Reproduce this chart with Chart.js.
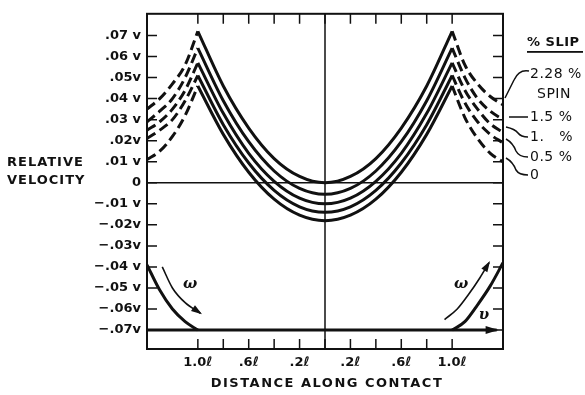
<!DOCTYPE html>
<html>
<head>
<meta charset="utf-8">
<script src="https://cdn.jsdelivr.net/npm/chart.js@4/dist/chart.umd.min.js"></script>
<style>
  html, body { margin: 0; padding: 0; background: #fff; }
  canvas { display: block; }
</style>
</head>
<body>
<canvas id="c" width="585" height="395"></canvas>
<script>
// Positions along the contact, in units of ℓ
const xContact   = [-1.0, -0.8, -0.6, -0.4, -0.2, 0, 0.2, 0.4, 0.6, 0.8, 1.0];
const xLeftTail  = [-1.4, -1.3, -1.2, -1.1, -1.0];
const xRightTail = [1.0, 1.1, 1.2, 1.3, 1.4];

const slipLabels = ['2.28 %', '1.5 %', '1.   %', '0.5 %', '0'];

// Relative velocity (fraction of v) inside the contact, one row per slip
const slip228 = [0.072, 0.046, 0.026, 0.0115, 0.003, 0.000, 0.003, 0.0115, 0.026, 0.046, 0.072];
const slip15  = [0.064, 0.039, 0.0195, 0.0056, -0.0027, -0.0055, -0.0027, 0.0056, 0.0195, 0.039, 0.064];
const slip10  = [0.057, 0.033, 0.014, 0.0007, -0.0073, -0.010, -0.0073, 0.0007, 0.014, 0.033, 0.057];
const slip05  = [0.051, 0.0276, 0.0094, -0.0036, -0.0114, -0.014, -0.0114, -0.0036, 0.0094, 0.0276, 0.051];
const slip00  = [0.046, 0.023, 0.005, -0.0078, -0.0154, -0.018, -0.0154, -0.0078, 0.005, 0.023, 0.046];

// Velocity outside the contact (dashed tails)
const tailL228 = [0.035, 0.040, 0.047, 0.056, 0.072];
const tailL15  = [0.029, 0.034, 0.040, 0.050, 0.064];
const tailL10  = [0.025, 0.029, 0.035, 0.044, 0.057];
const tailL05  = [0.021, 0.025, 0.030, 0.039, 0.051];
const tailL00  = [0.011, 0.015, 0.022, 0.032, 0.046];

const tailR228 = [0.072, 0.056, 0.047, 0.041, 0.037];
const tailR15  = [0.064, 0.050, 0.040, 0.034, 0.030];
const tailR10  = [0.057, 0.044, 0.035, 0.028, 0.024];
const tailR05  = [0.051, 0.038, 0.029, 0.023, 0.019];
const tailR00  = [0.046, 0.031, 0.021, 0.014, 0.010];

// Rolling-element sketch in the lower corners
const xBall = [-1.4, -1.3, -1.2, -1.1, -1.0];
const yBall = [-0.039, -0.051, -0.060, -0.066, -0.070];
const xBallR = [1.0, 1.1, 1.2, 1.3, 1.4];
const yBallR = [-0.070, -0.066, -0.058, -0.049, -0.038];
const xOmegaL = [-1.28, -1.2, -1.1, -0.98];
const yOmegaL = [-0.040, -0.050, -0.057, -0.062];
const xOmegaR = [0.94, 1.04, 1.13, 1.22, 1.29];
const yOmegaR = [-0.065, -0.060, -0.053, -0.045, -0.038];
const xBase = [-1.4, 1.35];
const yBase = [-0.070, -0.070];

// Axis ticks and labels
const yTickVals = [-0.07, -0.06, -0.05, -0.04, -0.03, -0.02, -0.01, 0, 0.01, 0.02, 0.03, 0.04, 0.05, 0.06, 0.07];
const yTickLabels = ['\u2212.07v', '\u2212.06v', '\u2212.05 v', '\u2212.04 v', '\u2212.03v', '\u2212.02v', '\u2212.01 v', '0',
                     '.01 v', '.02v', '.03 v', '.04 v', '.05v', '.06 v', '.07 v'];
const xTickVals = [-1.0, -0.6, -0.2, 0.2, 0.6, 1.0];
const xTickLabels = ['1.0\u2113', '.6\u2113', '.2\u2113', '.2\u2113', '.6\u2113', '1.0\u2113'];
const xMarkVals = [-1.0, -0.8, -0.6, -0.4, -0.2, 0, 0.2, 0.4, 0.6, 0.8, 1.0];

const INK = '#111';
const pts = (xs, ys) => xs.map((x, i) => ({ x: x, y: ys[i] }));

function curve(xs, ys, dashed, width) {
  return {
    data: pts(xs, ys),
    borderColor: INK,
    borderWidth: width || 3,
    borderDash: dashed ? [10, 5] : [],
    pointRadius: 0,
    fill: false,
    cubicInterpolationMode: 'monotone'
  };
}

const datasets = [
  curve(xContact, slip228), curve(xContact, slip15), curve(xContact, slip10),
  curve(xContact, slip05), curve(xContact, slip00),
  curve(xLeftTail, tailL228, true), curve(xLeftTail, tailL15, true), curve(xLeftTail, tailL10, true),
  curve(xLeftTail, tailL05, true), curve(xLeftTail, tailL00, true),
  curve(xRightTail, tailR228, true), curve(xRightTail, tailR15, true), curve(xRightTail, tailR10, true),
  curve(xRightTail, tailR05, true), curve(xRightTail, tailR00, true),
  curve(xBall, yBall, false, 3), curve(xBallR, yBallR, false, 3),
  curve(xOmegaL, yOmegaL, false, 1.6), curve(xOmegaR, yOmegaR, false, 1.6),
  curve(xBase, yBase, false, 3)
];
const IDX_OMEGA_L = 17, IDX_OMEGA_R = 18, IDX_BASE = 19;

function arrowHead(ctx, x0, y0, x1, y1, len, half) {
  const a = Math.atan2(y1 - y0, x1 - x0);
  ctx.save();
  ctx.translate(x1, y1);
  ctx.rotate(a);
  ctx.beginPath();
  ctx.moveTo(2, 0);
  ctx.lineTo(-len, -half);
  ctx.lineTo(-len, half);
  ctx.closePath();
  ctx.fillStyle = INK;
  ctx.fill();
  ctx.restore();
}

const decor = {
  id: 'decor',
  beforeDatasetsDraw(chart) {
    const { ctx, chartArea: a, scales: { x, y } } = chart;
    ctx.save();
    ctx.strokeStyle = INK;
    // reference lines through the origin
    ctx.lineWidth = 1.5;
    ctx.beginPath();
    ctx.moveTo(a.left, y.getPixelForValue(0));
    ctx.lineTo(a.right, y.getPixelForValue(0));
    ctx.moveTo(x.getPixelForValue(0), a.top);
    ctx.lineTo(x.getPixelForValue(0), a.bottom);
    ctx.stroke();
    // frame
    ctx.lineWidth = 2;
    ctx.strokeRect(a.left, a.top, a.right - a.left, a.bottom - a.top);
    // inward tick marks
    ctx.lineWidth = 1.5;
    ctx.beginPath();
    const tl = 10;
    y.ticks.forEach(t => {
      const py = y.getPixelForValue(t.value);
      ctx.moveTo(a.left, py); ctx.lineTo(a.left + tl, py);
      ctx.moveTo(a.right, py); ctx.lineTo(a.right - tl, py);
    });
    xMarkVals.forEach(v => {
      const px = x.getPixelForValue(v);
      ctx.moveTo(px, a.bottom); ctx.lineTo(px, a.bottom - tl);
      ctx.moveTo(px, a.top); ctx.lineTo(px, a.top + tl);
    });
    ctx.stroke();
    ctx.restore();
  },
  afterDatasetsDraw(chart) {
    const { ctx, scales: { x, y } } = chart;
    ctx.save();
    // arrowheads
    const tip = (i) => {
      const d = chart.getDatasetMeta(i).data;
      const p1 = d[d.length - 1], p0 = d[d.length - 2];
      return [p0.x, p0.y, p1.x, p1.y];
    };
    let t = tip(IDX_OMEGA_L); arrowHead(ctx, t[0], t[1], t[2], t[3], 9, 3.5);
    t = tip(IDX_OMEGA_R); arrowHead(ctx, t[0], t[1], t[2], t[3], 9, 3.5);
    t = tip(IDX_BASE); arrowHead(ctx, t[0], t[1], t[2], t[3], 11, 4);

    ctx.fillStyle = INK;
    ctx.textBaseline = 'middle';
    // omega / v symbols
    ctx.font = 'italic bold 15px "DejaVu Serif"';
    ctx.textAlign = 'center';
    ctx.fillText('\u03c9', x.getPixelForValue(-1.06), y.getPixelForValue(-0.048));
    ctx.fillText('\u03c9', x.getPixelForValue(1.07), y.getPixelForValue(-0.048));
    ctx.fillText('\u03c5', x.getPixelForValue(1.25), y.getPixelForValue(-0.063));

    // axis titles
    ctx.font = 'bold 13px "DejaVu Sans"';
    ctx.letterSpacing = '1px';
    ctx.textAlign = 'left';
    ctx.fillText('RELATIVE', 7, 163);
    ctx.fillText('VELOCITY', 7, 181);
    ctx.textAlign = 'center';
    ctx.letterSpacing = '1.5px';
    ctx.fillText('DISTANCE ALONG CONTACT', 327, 384);

    // slip key
    ctx.letterSpacing = '0.5px';
    ctx.textAlign = 'left';
    ctx.fillText('% SLIP', 527, 43);
    ctx.fillRect(527, 51, 56, 1.8);
    ctx.font = '14px "DejaVu Sans"';
    ctx.letterSpacing = '0.5px';
    const keyY = [74, 117, 137, 157, 175];
    slipLabels.forEach((s, i) => ctx.fillText(s, 530, keyY[i]));
    ctx.fillText('SPIN', 537, 94);

    // leader lines from key to curve ends
    ctx.strokeStyle = INK;
    ctx.lineWidth = 1.5;
    ctx.beginPath();
    ctx.moveTo(529, 71); ctx.quadraticCurveTo(519, 69, 514, 80); ctx.lineTo(505, 98);
    ctx.moveTo(509, 117); ctx.lineTo(528, 117);
    ctx.moveTo(506, 127); ctx.quadraticCurveTo(515, 129, 518, 133); ctx.quadraticCurveTo(521, 137, 528, 137);
    ctx.moveTo(506, 139); ctx.quadraticCurveTo(513, 143, 516, 151); ctx.quadraticCurveTo(519, 157, 528, 157);
    ctx.moveTo(506, 158); ctx.quadraticCurveTo(513, 162, 516, 170); ctx.quadraticCurveTo(519, 175, 528, 175);
    ctx.stroke();
    ctx.restore();
  }
};

new Chart(document.getElementById('c'), {
  type: 'line',
  data: { datasets: datasets },
  options: {
    responsive: false,
    devicePixelRatio: 1,
    animation: false,
    events: [],
    layout: { padding: { left: 0, right: 82, top: 8, bottom: 0 } },
    plugins: { legend: { display: false }, tooltip: { enabled: false } },
    scales: {
      x: {
        type: 'linear',
        min: -1.4, max: 1.4,
        grid: { display: false, drawTicks: false },
        border: { display: false },
        afterBuildTicks: s => { s.ticks = xTickVals.map(v => ({ value: v })); },
        afterFit: s => { s.height = 46; },
        ticks: {
          autoSkip: false, maxRotation: 0, padding: 6,
          color: INK,
          font: { family: 'DejaVu Sans', size: 13, weight: 'bold' },
          callback: (v, i) => xTickLabels[i]
        }
      },
      y: {
        type: 'linear',
        min: -0.079, max: 0.0803,
        grid: { display: false, drawTicks: false },
        border: { display: false },
        afterBuildTicks: s => { s.ticks = yTickVals.map(v => ({ value: v })); },
        afterFit: s => { s.width = 147; },
        ticks: {
          padding: 6,
          color: INK,
          font: { family: 'DejaVu Sans', size: 13, weight: 'bold' },
          callback: (v, i) => yTickLabels[i]
        }
      }
    }
  },
  plugins: [decor]
});
</script>
</body>
</html>
